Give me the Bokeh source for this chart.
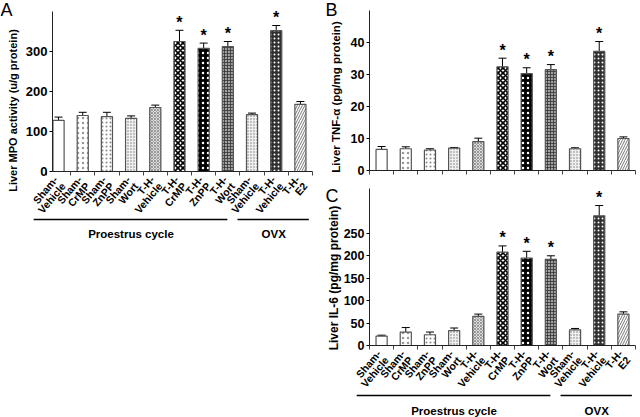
import math
from bokeh.plotting import figure
from bokeh.models import (ColumnDataSource, Range1d, FixedTicker, Whisker, TeeHead,
                          LabelSet, Label, Arrow)
from bokeh.layouts import row, column
from bokeh.core.properties import value
from bokeh.embed import file_html
from bokeh.resources import INLINE

# ---------------- data ----------------
label_line1 = ["Sham-", "Sham-", "Sham-", "Sham-", "T-H-", "T-H-", "T-H-", "T-H-",
               "Sham-", "T-H-", "T-H-"]
label_line2 = ["Vehicle", "CrMP", "ZnPP", "Wort", "Vehicle", "CrMP", "ZnPP", "Wort",
               "Vehicle", "Vehicle", "E2"]
groups = ["Proestrus cycle", "OVX"]

mpo_mean = [128, 140, 137, 133, 160, 325, 308, 312, 142, 352, 168]
mpo_err = [8, 8, 11, 6, 6, 28, 13, 13, 4, 13, 7]
tnf_mean = [6.6, 6.8, 6.4, 7.0, 9.0, 32.4, 30.3, 31.5, 6.8, 37.2, 10.0]
tnf_err = [0.9, 0.6, 0.4, 0.2, 1.1, 2.7, 1.8, 1.6, 0.3, 3.1, 0.5]
il6_mean = [21, 30, 24, 33, 65, 208, 195, 192, 35, 289, 70]
il6_err = [2, 10, 6, 6, 5, 14, 15, 8, 3, 23, 5]
significant = [0, 0, 0, 0, 0, 1, 1, 1, 0, 1, 0]

mpo_ticks = [0, 100, 200, 300]
tnf_ticks = [0, 10, 20, 30, 40]
il6_ticks = [0, 50, 100, 150, 200, 250]

# ---------------- styles ----------------
FONT = "Liberation Sans"
bar_fill = ["white", "white", "white", "#f0f0f0", "#dcdcdc", "white", "black",
            "#a0a0a0", "#f0f0f0", "#303030", "white"]
bar_hatch = ["blank", "dot", "dot", "dot", "diagonal_cross", "diagonal_cross", "dot",
             "cross", "dot", "dot", "right_diagonal_line"]
bar_hcolor = ["black", "#999999", "#888888", "#777777", "#888888", "black", "white",
              "#333333", "#777777", "white", "#777777"]
bar_hscale = [6, 5, 4, 3, 3, 5, 5, 3, 3, 4, 5]
bar_hweight = [1, 1, 1, 1, 0.8, 1.6, 1, 0.8, 1, 1.4, 1]

LABEL_ANGLE = math.radians(50)


def make_panel(letter, ylabel, mean, err, ymax, yticks, W, H, ax_l, ax_r, ax_t, ax_b,
               xstart, xend, tick_font, ylabel_pos, ylabel_size, letter_px, cats=False,
               group_line_px=0, group_text_px=0):
    n = len(mean)
    ppx = (ax_r - ax_l) / (xend - xstart)
    ppy = (ax_b - ax_t) / ymax

    def dx(px):  # figure px (from left) -> data x
        return xstart + (px - ax_l) / ppx

    def dy(py):  # figure px (from top) -> data y
        return (ax_b - py) / ppy

    p = figure(frame_width=W, frame_height=H, min_border=0,
               x_range=Range1d(dx(0), dx(W)), y_range=Range1d(dy(H), dy(0)),
               output_backend="svg", toolbar_location=None)
    p.xgrid.visible = False
    p.ygrid.visible = False
    p.outline_line_color = None
    p.background_fill_color = "white"
    p.border_fill_color = "white"

    p.xaxis.fixed_location = 0
    p.xaxis.bounds = (xstart, xend)
    p.xaxis.ticker = FixedTicker(ticks=[i + 0.5 for i in range(-1, n)])
    p.xaxis.major_label_overrides = {i + 0.5: "" for i in range(-1, n)}
    p.xaxis.major_label_text_color = None
    p.xaxis.major_tick_in = 0
    p.xaxis.major_tick_out = 4
    p.xaxis.minor_tick_line_color = None
    p.xaxis.axis_line_color = "#222222"
    p.xaxis.major_tick_line_color = "#444444"

    p.yaxis.fixed_location = xstart
    p.yaxis.bounds = (0, ymax)
    p.yaxis.ticker = FixedTicker(ticks=yticks)
    p.yaxis.minor_tick_line_color = None
    p.yaxis.major_tick_in = 0
    p.yaxis.major_tick_out = 3
    p.yaxis.major_label_standoff = 2
    p.yaxis.major_label_text_font = FONT
    p.yaxis.major_label_text_font_style = "bold"
    p.yaxis.major_label_text_font_size = tick_font
    p.yaxis.major_label_text_color = "black"
    p.yaxis.axis_line_color = "#222222"

    p.add_layout(Label(x=dx(ylabel_pos[0]), y=dy(ylabel_pos[1]), text=ylabel,
                       angle=math.pi / 2, text_align="center", text_baseline="middle",
                       text_font=FONT, text_font_style="bold",
                       text_font_size=ylabel_size, text_color="black"))

    xs = list(range(n))
    src = ColumnDataSource(dict(
        x=xs, top=mean,
        lower=[m - e for m, e in zip(mean, err)],
        upper=[m + e for m, e in zip(mean, err)],
        fill=bar_fill, hatch=bar_hatch, hcol=bar_hcolor,
        hscale=bar_hscale, hweight=bar_hweight))
    p.vbar(x="x", top="top", width=0.46, source=src, fill_color="fill",
           line_color="#555555", line_width=1.2, hatch_pattern="hatch",
           hatch_color="hcol", hatch_scale="hscale", hatch_weight="hweight")
    p.add_layout(Whisker(source=src, base="x", upper="upper", lower="lower",
                         line_color="black", line_width=1,
                         upper_head=TeeHead(size=8, line_color="black", line_width=1),
                         lower_head=TeeHead(size=8, line_color="black", line_width=1)))

    sx = [i for i in xs if significant[i]]
    sy = [mean[i] + err[i] + 8 / ppy for i in sx]
    p.add_layout(LabelSet(x="x", y="y", text="t",
                          source=ColumnDataSource(dict(x=sx, y=sy, t=["*"] * len(sx))),
                          text_align="center", text_baseline="middle",
                          text_font=value(FONT), text_font_size="16px",
                          text_font_style="bold", text_color="black"))

    p.add_layout(Label(x=dx(letter_px[0]), y=dy(letter_px[1]), text=letter,
                       text_align="left", text_baseline="top", text_font=FONT,
                       text_font_size="18px", text_color="black"))

    if cats:
        # line 1 anchor (screen px relative to tick centre / axis), line 2 shifted
        # perpendicular to the rotated text by one line height
        l1_dx, l1_dy = -3.0, 6.0
        lh = 10.0
        l2_dx = l1_dx + lh * math.sin(LABEL_ANGLE)
        l2_dy = l1_dy + lh * math.cos(LABEL_ANGLE)
        l1 = ColumnDataSource(dict(x=[i + l1_dx / ppx for i in xs],
                                   y=[-l1_dy / ppy] * n, t=label_line1))
        l2 = ColumnDataSource(dict(x=[i + l2_dx / ppx for i in xs],
                                   y=[-l2_dy / ppy] * n, t=label_line2))
        for s in (l1, l2):
            p.add_layout(LabelSet(x="x", y="y", text="t", source=s, angle=LABEL_ANGLE,
                                  text_align="right", text_baseline="middle",
                                  text_font=value(FONT), text_font_size="10.5px",
                                  text_font_style="bold", text_color="black"))
        gy = -group_line_px / ppy
        ty = -group_text_px / ppy
        spans = [(-1.03, 6.98), (7.40, 10.35)]
        for name, (a, b) in zip(groups, spans):
            p.add_layout(Arrow(x_start=a, y_start=gy, x_end=b, y_end=gy, start=None,
                               end=None, line_color="black", line_width=1.5))
            p.add_layout(Label(x=(a + b) / 2 + 0.02, y=ty, text=name, text_align="center",
                               text_baseline="middle", text_font=FONT,
                               text_font_size="11.5px", text_font_style="bold",
                               text_color="black"))
    return p


pA = make_panel("A", "Liver MPO activity (u/g protein)", mpo_mean, mpo_err, 400, mpo_ticks,
                320, 417, 52, 312, 11, 171, -0.25, 10.5, "13px", (12, 110), "11px",
                (0, -1), cats=True, group_line_px=48, group_text_px=62)
pB = make_panel("B", "Liver TNF-\u03b1 (pg/mg protein)", tnf_mean, tnf_err, 50, tnf_ticks,
                320, 180, 49, 315, 10, 170, -0.5, 10.5, "12.5px", (15, 96.5), "11.5px",
                (5, -1))
pC = make_panel("C", "Liver IL-6 (pg/mg protein)", il6_mean, il6_err, 350, il6_ticks,
                320, 237, 49, 315, 8, 165, -0.5, 10.5, "12.5px", (13, 97.5), "12px",
                (5, 5), cats=True, group_line_px=50, group_text_px=65)

layout = row(pA, column(pB, pC))
open("out.html", "w").write(file_html(layout, INLINE))
